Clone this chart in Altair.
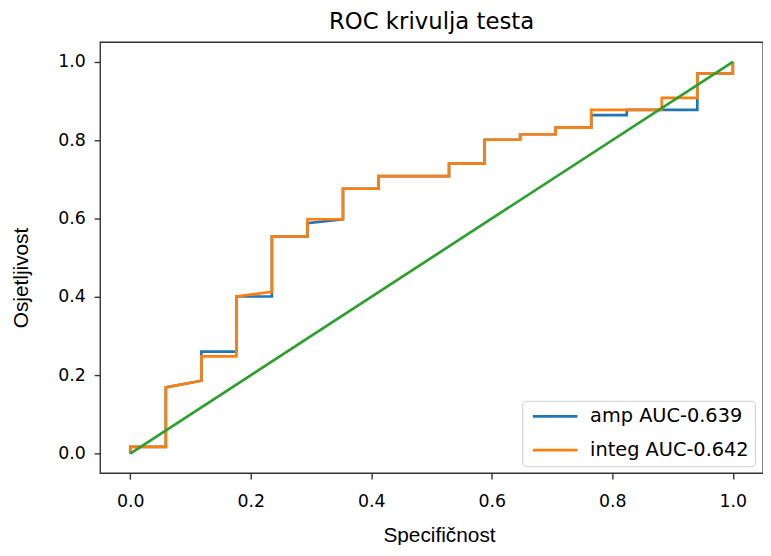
import altair as alt
import pandas as pd

AMP = "amp AUC-0.639"
INTEG = "integ AUC-0.642"

amp_fpr = [0, 0, 0.059, 0.059, 0.118, 0.118, 0.176, 0.176, 0.235, 0.235, 0.294, 0.294,
           0.353, 0.353, 0.412, 0.412, 0.529, 0.529, 0.588, 0.588, 0.647, 0.647, 0.706, 0.706,
           0.765, 0.765, 0.824, 0.824, 0.941, 0.941, 1.0, 1.0]
amp_tpr = [0, 0.017, 0.017, 0.169, 0.186, 0.260, 0.260, 0.401, 0.401, 0.554, 0.554, 0.588,
           0.598, 0.676, 0.676, 0.708, 0.708, 0.740, 0.740, 0.801, 0.801, 0.815, 0.815, 0.832,
           0.832, 0.864, 0.864, 0.877, 0.877, 0.970, 0.970, 1.0]

integ_fpr = [0, 0, 0.059, 0.059, 0.118, 0.118, 0.176, 0.176, 0.235, 0.235, 0.294, 0.294,
             0.353, 0.353, 0.412, 0.412, 0.529, 0.529, 0.588, 0.588, 0.647, 0.647, 0.706, 0.706,
             0.765, 0.765, 0.882, 0.882, 0.941, 0.941, 1.0, 1.0]
integ_tpr = [0, 0.017, 0.017, 0.169, 0.186, 0.248, 0.248, 0.401, 0.413, 0.554, 0.554, 0.598,
             0.598, 0.676, 0.676, 0.708, 0.708, 0.740, 0.740, 0.801, 0.801, 0.815, 0.815, 0.832,
             0.832, 0.877, 0.877, 0.908, 0.908, 0.970, 0.970, 1.0]

diag_fpr = [0.0, 1.0]
diag_tpr = [0.0, 1.0]

tick_values = [0.0, 0.2, 0.4, 0.6, 0.8, 1.0]

rows = []
for name, xs, ys in [(AMP, amp_fpr, amp_tpr), (INTEG, integ_fpr, integ_tpr)]:
    for i, (a, b) in enumerate(zip(xs, ys)):
        rows.append({"fpr": a, "tpr": b, "series": name, "i": i})
df = pd.DataFrame(rows)
diag_df = pd.DataFrame({"fpr": diag_fpr, "tpr": diag_tpr, "i": [0, 1]})

xscale = alt.Scale(domain=[-0.05, 1.05], nice=False, zero=False)
yscale = alt.Scale(domain=[-0.05, 1.05], nice=False, zero=False)

common_axis = dict(
    values=tick_values, format=".1f", grid=False, domain=False,
    tickColor="#333333", tickWidth=1.4, tickSize=6,
    labelFont="DejaVu Sans", labelFontSize=17.5, labelColor="#000000",
    titleFont="Liberation Sans", titleFontSize=21, titleFontWeight="normal",
    titleColor="#000000",
)

x_axis = alt.Axis(
    title="Specifičnost", labelBaseline="alphabetic", labelPadding=27.5,
    titleX=342, titleY=69, titleAlign="center", titleBaseline="alphabetic",
    **common_axis,
)
y_axis = alt.Axis(
    title="Osjetljivost", labelPadding=9,
    titleAngle=270, titleX=-73, titleY=237.5, titleAlign="center",
    titleBaseline="alphabetic",
    **common_axis,
)

roc = alt.Chart(df).mark_line(strokeWidth=2.7).encode(
    x=alt.X("fpr:Q", scale=xscale, axis=x_axis),
    y=alt.Y("tpr:Q", scale=yscale, axis=y_axis),
    color=alt.Color(
        "series:N",
        scale=alt.Scale(domain=[AMP, INTEG], range=["#1f77b4", "#ff7f0e"]),
        legend=alt.Legend(
            title=None, orient="none", legendX=426, legendY=362,
            fillColor="#ffffff", strokeColor="#cccccc", cornerRadius=4, padding=6,
            symbolType="M-1,0H8", symbolSize=100, symbolStrokeWidth=2.7,
            labelFont="DejaVu Sans", labelFontSize=19.5, labelColor="#000000",
            labelOffset=43, rowPadding=13, labelLimit=400,
        ),
    ),
    order="i:Q",
)

diag = alt.Chart(diag_df).mark_line(strokeWidth=2.7, color="#2ca02c").encode(
    x=alt.X("fpr:Q", scale=xscale),
    y=alt.Y("tpr:Q", scale=yscale),
    order="i:Q",
)

chart = alt.layer(roc, diag).properties(
    width=669, height=435,
    padding={"left": 93, "top": 32, "right": 0, "bottom": 70},
    autosize=alt.AutoSizeParams(type="none"),
    title=alt.TitleParams(
        "ROC krivulja testa", font="DejaVu Sans", fontSize=23, fontWeight="normal",
        color="#000000", anchor="middle", frame="group", baseline="alphabetic",
        offset=12, dy=22,
    ),
).configure(
    font="DejaVu Sans"
).configure_view(
    stroke="#333333", strokeWidth=1.4
)

chart.save("out.html", embed_options={"renderer": "svg", "actions": False})
